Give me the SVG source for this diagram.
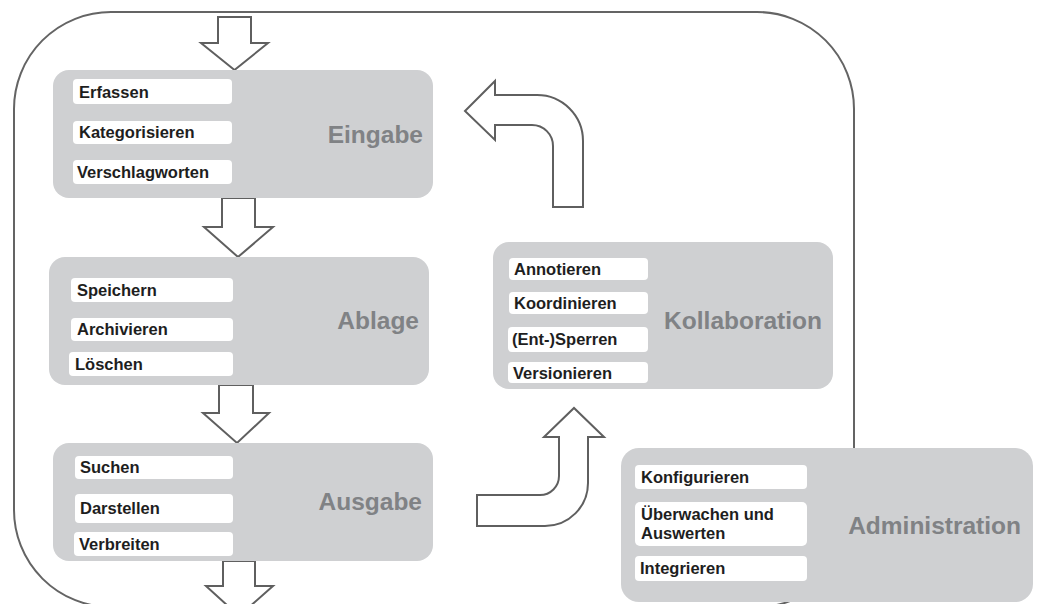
<svg xmlns="http://www.w3.org/2000/svg" width="1040" height="604" viewBox="0 0 1040 604">
<style>
.frame{fill:none;stroke:#646464;stroke-width:2}
.box{fill:#cfd0d2}
.item{fill:#ffffff}
.it{font-family:"Liberation Sans",Arial,sans-serif;font-weight:bold;font-size:16.5px;fill:#1e1e1e}
.lbl{font-family:"Liberation Sans",Arial,sans-serif;font-weight:bold;font-size:24.5px;fill:#808285;text-anchor:end}
.arr{fill:#ffffff;stroke:#5f5f5f;stroke-width:2;stroke-linejoin:miter}
</style>
<rect class="frame" x="14" y="12" width="840" height="595" rx="97" ry="97"/>
<g id="connectors">
<path class="arr" d="M218,17 L251,17 L251,43 L268,43 L234.5,70 L201,43 L218,43 Z"/>
<path class="arr" d="M222,198 L255,198 L255,227 L273,227 L238,257 L204,227 L222,227 Z"/>
<path class="arr" d="M219,385 L253,385 L253,413 L269,413 L237,443 L203,413 L219,413 Z"/>
<path class="arr" d="M223,561 L255,561 L255,586 L273,586 L239,616 L206,586 L223,586 Z"/>
<path class="arr" d="M583,207 L583,141 A46,46 0 0 0 537,95 L495,95 L495,81 L465,111 L495,140 L495,125 L532,125 A21,21 0 0 1 553,146 L553,207 Z"/>
<path class="arr" d="M477,495 L540,495 A19,19 0 0 0 559,476 L559,437 L544,437 L574,408 L604,437 L588,437 L588,483 A43,43 0 0 1 545,526 L477,526 Z"/>
</g>
<g id="eingabe">
<rect class="box" x="53" y="70" width="380" height="128" rx="16"/>
<rect class="item" x="73" y="79" width="159" height="25" rx="4"/>
<rect class="item" x="73" y="121" width="159" height="23" rx="4"/>
<rect class="item" x="73" y="160" width="159" height="24" rx="4"/>
<text class="it" x="79" y="97.5">Erfassen</text>
<text class="it" x="79" y="138">Kategorisieren</text>
<text class="it" x="77" y="178">Verschlagworten</text>
<text class="lbl" x="423" y="143">Eingabe</text>
</g>
<g id="ablage">
<rect class="box" x="49" y="257" width="380" height="128" rx="16"/>
<rect class="item" x="71" y="278" width="162" height="24" rx="4"/>
<rect class="item" x="71" y="318" width="162" height="23" rx="4"/>
<rect class="item" x="69" y="352" width="164" height="24" rx="4"/>
<text class="it" x="77" y="296">Speichern</text>
<text class="it" x="77" y="335">Archivieren</text>
<text class="it" x="75" y="370">Löschen</text>
<text class="lbl" x="419" y="329">Ablage</text>
</g>
<g id="ausgabe">
<rect class="box" x="53" y="443" width="380" height="118" rx="16"/>
<rect class="item" x="75" y="456" width="158" height="23" rx="4"/>
<rect class="item" x="75" y="494" width="158" height="29" rx="4"/>
<rect class="item" x="74" y="532" width="159" height="24" rx="4"/>
<text class="it" x="80" y="473">Suchen</text>
<text class="it" x="80" y="514">Darstellen</text>
<text class="it" x="79" y="550">Verbreiten</text>
<text class="lbl" x="422" y="510">Ausgabe</text>
</g>
<g id="kollaboration">
<rect class="box" x="493" y="242" width="340" height="147" rx="16"/>
<rect class="item" x="509" y="258" width="139" height="22" rx="4"/>
<rect class="item" x="509" y="292" width="139" height="22" rx="4"/>
<rect class="item" x="508" y="327" width="140" height="25" rx="4"/>
<rect class="item" x="508" y="362" width="140" height="21" rx="4"/>
<text class="it" x="514" y="275">Annotieren</text>
<text class="it" x="514" y="309">Koordinieren</text>
<text class="it" x="512" y="345">(Ent-)Sperren</text>
<text class="it" x="513" y="379">Versionieren</text>
<text class="lbl" x="822" y="329">Kollaboration</text>
</g>
<g id="administration">
<rect class="box" x="621" y="448" width="412" height="154" rx="18"/>
<rect class="item" x="635" y="465" width="172" height="24" rx="4"/>
<rect class="item" x="635" y="502" width="172" height="44" rx="5"/>
<rect class="item" x="635" y="556" width="172" height="25" rx="4"/>
<text class="it" x="641" y="483">Konfigurieren</text>
<text class="it" x="641" y="520">Überwachen und</text>
<text class="it" x="641" y="539">Auswerten</text>
<text class="it" x="640" y="574">Integrieren</text>
<text class="lbl" x="1021" y="534">Administration</text>
</g>
</svg>
